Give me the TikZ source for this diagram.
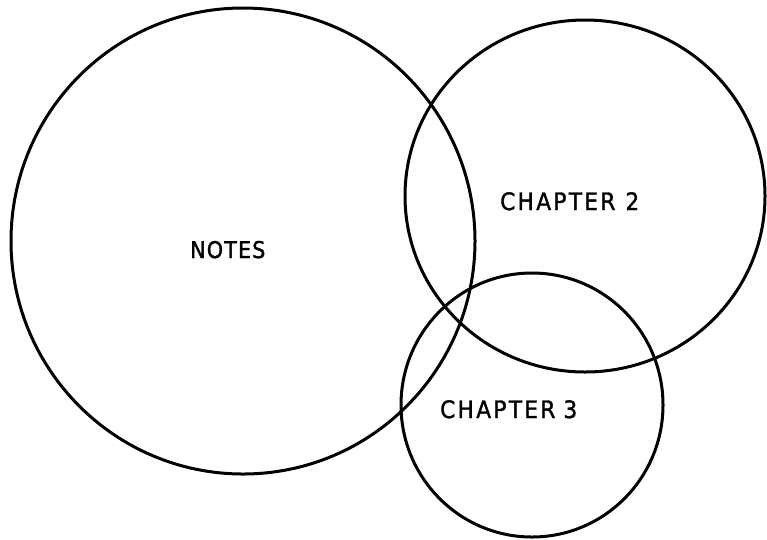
\documentclass[tikz,border=0pt]{standalone}
\usepackage{fontspec}
\setmainfont{DejaVu Sans Condensed}[LetterSpace=10,FakeBold=1.5]
\newfontfamily\notesfont{DejaVu Sans Condensed}[LetterSpace=5,FakeBold=1.5]
\begin{document}
\begin{tikzpicture}[x=1pt,y=-1pt,
  setcircle/.style={draw=black,line width=3pt},
  setlabel/.style={font=\fontsize{24}{28}\selectfont,inner sep=0pt,anchor=base west}]
\useasboundingbox (0,0) rectangle (767,539);
\fill[white] (0,0) rectangle (767,539);
\draw[setcircle] (243,241) ellipse [x radius=232,y radius=233];
\draw[setcircle] (585,196) ellipse [x radius=180,y radius=176];
\draw[setcircle] (532,405) ellipse [x radius=131,y radius=132];
\node[setlabel,font=\notesfont\fontsize{23}{27}\selectfont] (notes) at (190,258) {NOTES};
\node[setlabel] (ch2) at (500,210) {CHAPTER\hspace{10pt}2};
\node[setlabel] (ch3) at (440,418) {CHAPTER\hspace{8pt}3};
\end{tikzpicture}
\end{document}
